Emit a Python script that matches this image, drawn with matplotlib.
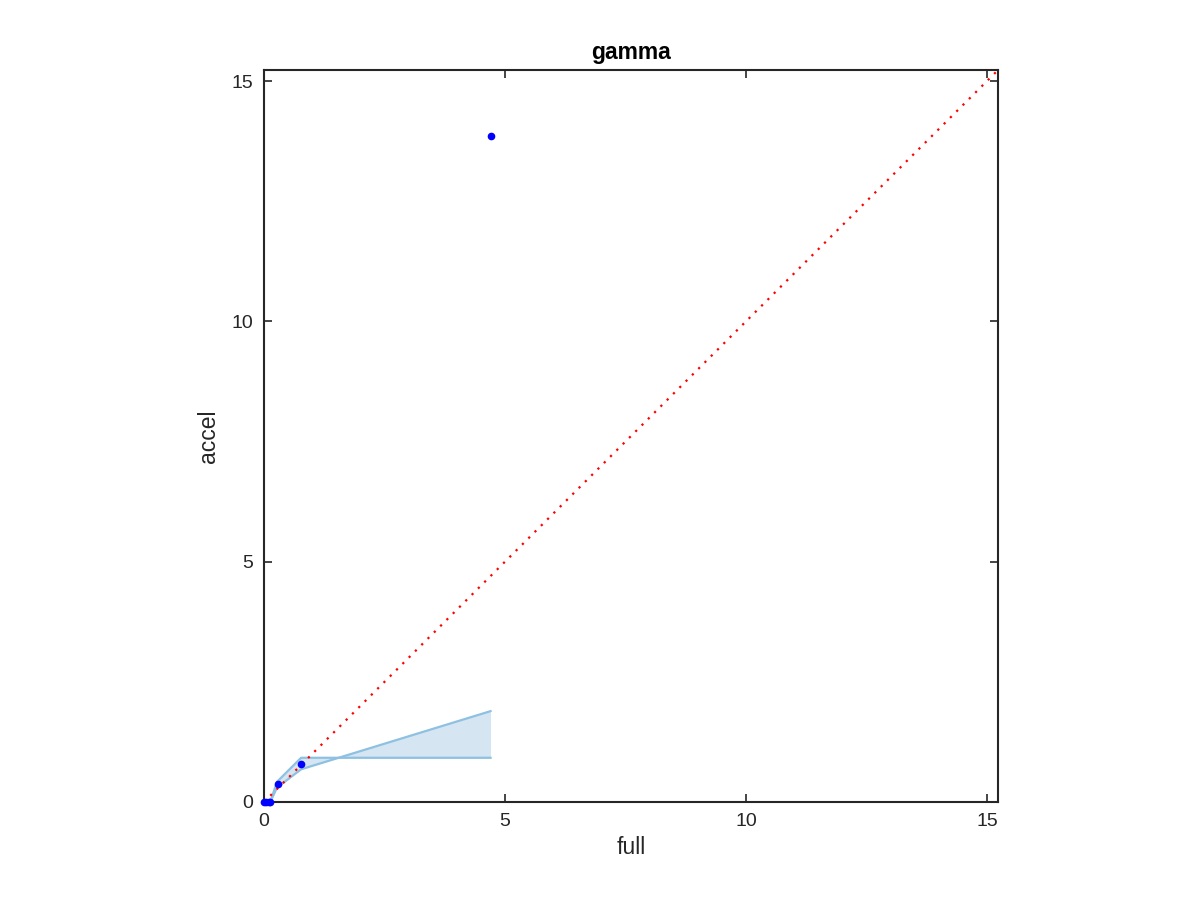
import numpy as np
import matplotlib
matplotlib.use("Agg")
import matplotlib.pyplot as plt

plt.rcParams['font.family'] = ['Liberation Sans', 'DejaVu Sans']

# data
full_pts = np.array([0.0, 0.05, 0.1, 0.13, 0.285, 0.77, 4.70])
accel_pts = np.array([0.0, 0.0, 0.0, 0.0, 0.37, 0.80, 13.85])

band_x = np.array([0.0, 0.13, 0.27, 0.77, 4.70])
band_hi = np.array([0.0, 0.0, 0.42, 0.92, 0.92])
band_lo = np.array([0.0, 0.0, 0.30, 0.68, 1.89])

lim = 15.23

fig = plt.figure(figsize=(12, 9), dpi=100)
ax = fig.add_axes([0.22, 0.1089, 0.6117, 0.8133])

ax.fill_between(band_x, band_hi, band_lo, color='#d5e5f2', lw=0)
ax.plot(band_x, band_hi, color='#8ec1e1', lw=1.6)
ax.plot(band_x, band_lo, color='#8ec1e1', lw=1.6)

ax.plot([0, lim], [0, lim], linestyle=(0, (1, 3)), color='red', lw=1.6)
ax.plot(full_pts, accel_pts, 'o', color='blue', markersize=4.5,
        clip_on=False, zorder=5)

ax.set_xlim(0, lim)
ax.set_ylim(0, lim)
ax.set_xticks([0, 5, 10, 15])
ax.set_yticks([0, 5, 10, 15])
ax.tick_params(direction='in', top=True, right=True, length=6, width=1.2,
               labelsize=14, colors='#262626', pad=8)
for s in ax.spines.values():
    s.set_linewidth(1.5)
    s.set_color('#262626')

ax.set_xlabel("full", fontsize=16.5, color='#262626', labelpad=4)
ax.set_ylabel("accel", fontsize=16.5, color='#262626', labelpad=8)
ax.set_title("gamma", fontsize=16.5, fontweight='bold', pad=8)

fig.savefig("out.png", dpi=100)
